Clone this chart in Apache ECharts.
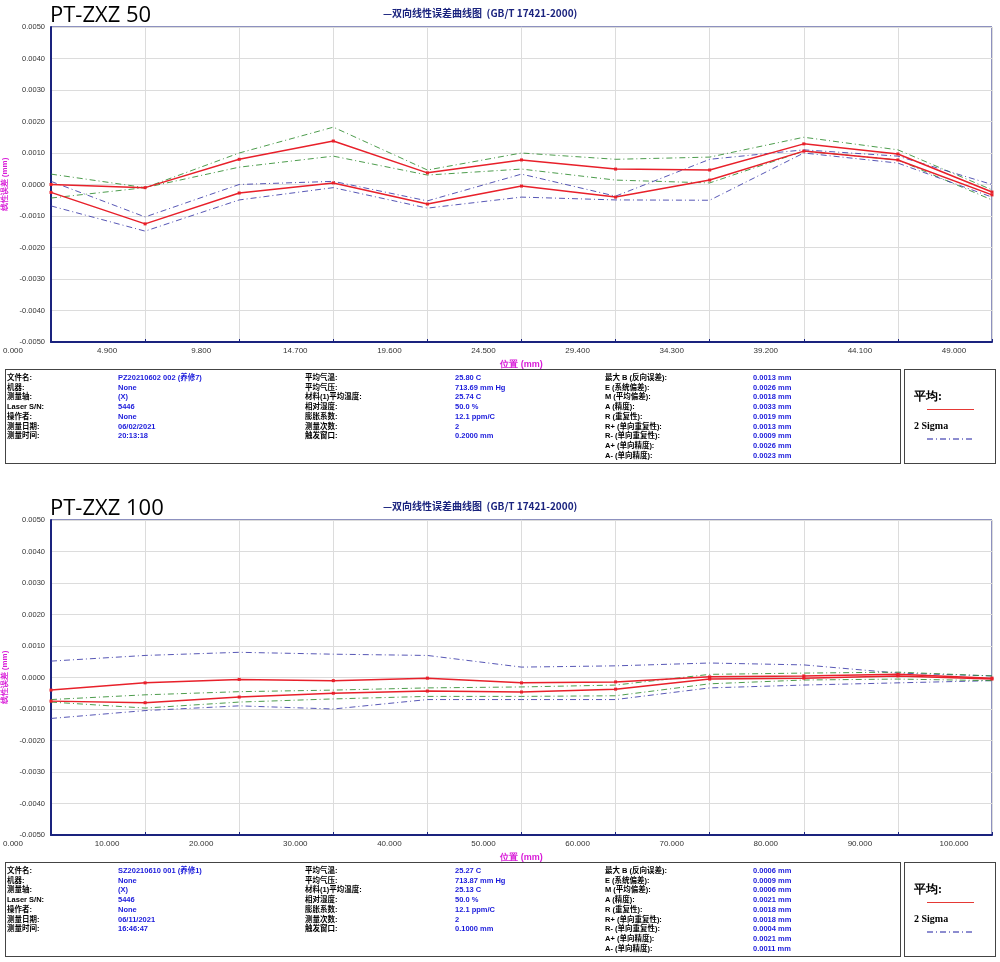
<!DOCTYPE html>
<html><head><meta charset="utf-8">
<script src="https://cdn.jsdelivr.net/npm/echarts@6/dist/echarts.min.js"></script>
<style>
body{margin:0;background:#fff;font-family:"Liberation Sans",Arial,"Noto Sans CJK SC",sans-serif;}
#c{position:absolute;left:0;top:0;width:1000px;height:962px;}
.t{position:absolute;font-size:7.5px;font-weight:bold;white-space:nowrap;line-height:9.7px;}
.box{position:absolute;border:1px solid #444;background:transparent;}
.big{position:absolute;font-family:"Open Sans","Noto Sans",sans-serif;font-size:22px;color:#000;}
.sub{position:absolute;font-size:10px;font-weight:bold;color:#1a237e;font-family:"Noto Sans CJK SC",sans-serif;}
</style></head><body>
<div id="c"></div>
<div id="ov"></div>
<script>
const xLabels1 = ["0.000","4.900","9.800","14.700","19.600","24.500","29.400","34.300","39.200","44.100","49.000"];
const xLabels2 = ["0.000","10.000","20.000","30.000","40.000","50.000","60.000","70.000","80.000","90.000","100.000"];
const yTicks = [-0.005,-0.004,-0.003,-0.002,-0.001,0,0.001,0.002,0.003,0.004,0.005];
// top chart (PT-ZXZ 50)
const meanFwd1 = [0.0000,-0.0001,0.0008,0.00138,0.00037,0.00078,0.00049,0.00046,0.00129,0.00097,-0.00024];
const meanBwd1 = [-0.00025,-0.00125,-0.00027,0.00005,-0.00062,-0.00005,-0.0004,0.00014,0.00106,0.00078,-0.00033];
const sigFwdHi1 = [0.00033,-0.0001,0.001,0.00182,0.00046,0.001,0.0008,0.00087,0.0015,0.0011,-0.00017];
const sigFwdLo1 = [-0.00043,-0.0001,0.00055,0.0009,0.0003,0.00049,0.00014,0.00005,0.00106,0.00078,-0.00049];
const sigBwdHi1 = [0.0001,-0.00103,0.0000,0.0001,-0.00052,0.00033,-0.00037,0.0008,0.0011,0.0009,0.0000];
const sigBwdLo1 = [-0.00068,-0.00148,-0.00049,-0.0001,-0.00075,-0.0004,-0.00049,-0.0005,0.001,0.00068,-0.0004];
// bottom chart (PT-ZXZ 100)
const meanFwd2 = [-0.0004,-0.00017,-0.00006,-0.0001,-0.00002,-0.00017,-0.00014,0.00002,0.00005,0.0001,-0.00002];
const meanBwd2 = [-0.00075,-0.0008,-0.00062,-0.0005,-0.00043,-0.00046,-0.00037,-0.00005,-0.00002,0.00005,-0.00005];
const sigHi2a = [0.00052,0.0007,0.0008,0.00074,0.0007,0.00033,0.00037,0.00046,0.0004,0.00014,0.00005];
const sigLo2a = [-0.0013,-0.00105,-0.0009,-0.001,-0.0007,-0.0007,-0.0007,-0.00033,-0.00024,-0.00017,-0.0001];
const sigHi2b = [-0.0007,-0.00055,-0.00045,-0.0004,-0.00033,-0.0003,-0.00024,0.0001,0.00014,0.00017,0.00005];
const sigLo2b = [-0.00078,-0.00097,-0.00078,-0.00068,-0.0006,-0.0006,-0.00058,-0.0002,-0.00008,-0.00005,-0.0001];

const info1 = [
 ["文件名:","PZ20210602 002 (养修7)","平均气温:","25.80 C","最大 B (反向误差):","0.0013 mm"],
 ["机器:"," None","平均气压:","713.69 mm Hg","E (系统偏差):","0.0026 mm"],
 ["测量轴:","(X)","材料(1)平均温度:","25.74 C","M (平均偏差):","0.0018 mm"],
 ["Laser S/N:","5446","相对湿度:","50.0 %","A (精度):","0.0033 mm"],
 ["操作者:"," None","膨胀系数:","12.1 ppm/C","R (重复性):","0.0019 mm"],
 ["测量日期:","06/02/2021","测量次数:","2","R+ (单向重复性):","0.0013 mm"],
 ["测量时间:","20:13:18","触发窗口:","0.2000 mm","R- (单向重复性):","0.0009 mm"],
 ["","","","","A+ (单向精度):","0.0026 mm"],
 ["","","","","A- (单向精度):","0.0023 mm"]];
const info2 = [
 ["文件名:","SZ20210610 001 (养修1)","平均气温:","25.27 C","最大 B (反向误差):","0.0006 mm"],
 ["机器:"," None","平均气压:","713.87 mm Hg","E (系统偏差):","0.0009 mm"],
 ["测量轴:","(X)","材料(1)平均温度:","25.13 C","M (平均偏差):","0.0006 mm"],
 ["Laser S/N:","5446","相对湿度:","50.0 %","A (精度):","0.0021 mm"],
 ["操作者:"," None","膨胀系数:","12.1 ppm/C","R (重复性):","0.0018 mm"],
 ["测量日期:","06/11/2021","测量次数:","2","R+ (单向重复性):","0.0018 mm"],
 ["测量时间:","16:46:47","触发窗口:","0.1000 mm","R- (单向重复性):","0.0004 mm"],
 ["","","","","A+ (单向精度):","0.0021 mm"],
 ["","","","","A- (单向精度):","0.0011 mm"]];

let h='';
function panel(dy,title,info){
  h+=`<div class="big" style="left:50px;top:${dy-2}px">${title}</div>`;
  h+=`<div class="sub" style="left:383px;top:${dy+5}px">—双向线性误差曲线图 &nbsp;(GB/T 17421-2000)</div>`;
  h+=`<div class="box" style="left:5px;top:${dy+369}px;width:894px;height:93px"></div>`;
  h+=`<div class="box" style="left:904px;top:${dy+369}px;width:90px;height:93px"></div>`;
  const cols=[[7,'#000'],[118,'#1a1adb'],[305,'#000'],[455,'#1a1adb'],[605,'#000'],[753,'#1a1adb']];
  info.forEach((r,i)=>{r.forEach((s,j)=>{ if(s) h+=`<div class="t" style="left:${cols[j][0]}px;top:${dy+373+i*9.7}px;color:${cols[j][1]}">${s}</div>`;});});
  h+=`<div style="position:absolute;left:914px;top:${dy+388}px;font-family:'Liberation Serif',serif;font-size:12px;font-weight:bold">平均:</div>`;
  h+=`<div style="position:absolute;left:927px;top:${dy+409}px;width:47px;border-top:1px solid #e53935"></div>`;
  h+=`<div style="position:absolute;left:914px;top:${dy+420}px;font-family:'Liberation Serif',serif;font-size:10px;font-weight:bold">2 Sigma</div>`;
  h+=`<svg style="position:absolute;left:927px;top:${dy+438}px" width="50" height="3"><line x1="0" y1="1" x2="47" y2="1" stroke="#1a1aa0" stroke-width="1" stroke-dasharray="6,3,1,3"/></svg>`;
}
panel(0,"PT-ZXZ 50",info1);
panel(493,"PT-ZXZ 100",info2);
document.getElementById('ov').innerHTML=h;

const chart = echarts.init(document.getElementById('c'));
const red='#e8202a', green='#2e8b2e', blue='#3a3aa8';
const dd=[6,3,1,3];
function mk(data,color,solid,gi){
  return {type:'line',xAxisIndex:gi,yAxisIndex:gi,data:data.map((v,i)=>[i,v]),
    symbol:solid?'rect':'none',symbolSize:3,itemStyle:{color:color},
    lineStyle:{color:color,width:solid?1.5:1,type:solid?'solid':dd,opacity:solid?1:0.85},silent:true,animation:false};
}
function xa(gi,labels){
  return {type:'value',gridIndex:gi,min:0,max:10,interval:1,
    name:'位置 (mm)',nameLocation:'middle',nameGap:18,nameTextStyle:{color:'#d81bd8',fontSize:9,fontWeight:'bold'},
    axisLine:{onZero:false,lineStyle:{color:'#1a237e',width:2}},axisTick:{show:true,length:3,inside:true,lineStyle:{color:'#1a237e'}},
    splitLine:{show:true,lineStyle:{color:'#dcdcdc'}},
    axisLabel:{fontSize:8,color:'#333',margin:5,padding:[0,76,0,0],formatter:v=>labels[Math.round(v)]}};
}
function ya(gi){
  return {type:'value',gridIndex:gi,min:-0.005,max:0.005,interval:0.001,
    name:'线性误差 (mm)',nameLocation:'middle',nameGap:40,nameTextStyle:{color:'#d81bd8',fontSize:8,fontWeight:'bold'},
    axisLine:{show:true,onZero:false,lineStyle:{color:'#1a237e',width:2}},axisTick:{show:false},
    splitLine:{lineStyle:{color:'#dcdcdc'}},
    axisLabel:{fontSize:7.5,color:'#333',margin:6,formatter:v=>v.toFixed(4)}};
}
chart.setOption({
  animation:false,
  grid:[{left:51,top:27,width:941,height:315,show:true,borderColor:'#1a237e',borderWidth:1,containLabel:false,outerBoundsMode:'none'},
        {left:51,top:520,width:941,height:315,show:true,borderColor:'#1a237e',borderWidth:1,containLabel:false,outerBoundsMode:'none'}],
  xAxis:[xa(0,xLabels1),xa(1,xLabels2)],
  yAxis:[ya(0),ya(1)],
  series:[
    mk(sigFwdHi1,green,false,0),mk(sigFwdLo1,green,false,0),
    mk(sigBwdHi1,blue,false,0),mk(sigBwdLo1,blue,false,0),
    mk(meanFwd1,red,true,0),mk(meanBwd1,red,true,0),
    mk(sigHi2a,blue,false,1),mk(sigLo2a,blue,false,1),
    mk(sigHi2b,green,false,1),mk(sigLo2b,green,false,1),
    mk(meanFwd2,red,true,1),mk(meanBwd2,red,true,1)
  ]
});
</script></body></html>
